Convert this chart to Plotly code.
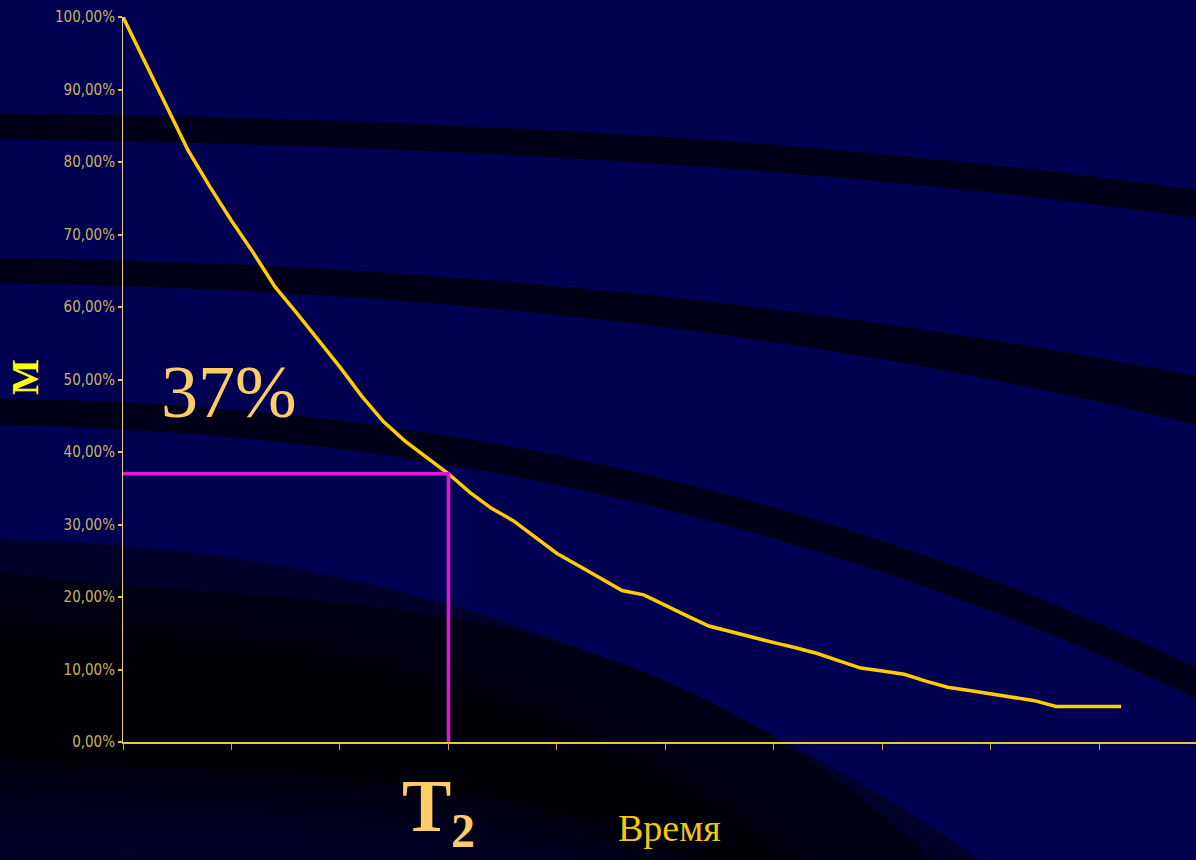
import numpy as np
import plotly.graph_objects as go

# Decay curve: share of signal remaining at each time step
time_step = list(range(47))
signal_pct = [100.0, 93.8, 87.6, 81.6, 76.6, 71.9, 67.5, 62.8, 59.2, 55.5,
              51.7, 47.7, 44.2, 41.5, 39.3, 37.0, 34.4, 32.2, 30.5, 28.2,
              26.0, 24.3, 22.6, 20.9, 20.3, 18.8, 17.4, 16.0, 15.2, 14.5,
              13.7, 13.0, 12.2, 11.2, 10.2, 9.8, 9.35, 8.4, 7.55, 7.1,
              6.6, 6.1, 5.7, 4.9, 4.9, 4.9, 4.9]

# Marker for T2: the step where 37% of the signal remains
t2_step = 15
t2_level = 37.0

y_ticks = list(range(0, 101, 10))
y_tick_text = [f"{v},00%" for v in y_ticks]

FIG_W, FIG_H = 1196, 860
L, T, W, H = 123, 17, 1073, 725
NAVY = "#000052"


def to_paper(px, py):
    return (px - L) / W, 1 - (py - T) / H


def edge(points, deg=3, x0=-30, x1=1230, n=60):
    xs, ys = zip(*points)
    coef = np.polyfit(xs, ys, min(deg, len(xs) - 1))
    gx = np.linspace(x0, x1, n)
    return list(zip(gx, np.polyval(coef, gx)))


def path_from(pts):
    parts = []
    for i, (px, py) in enumerate(pts):
        x, y = to_paper(px, py)
        parts.append(("M" if i == 0 else "L") + f"{x:.5f},{y:.5f}")
    return " ".join(parts) + " Z"


def band(top, bottom, color, opacity=1.0):
    pts = edge(top) + edge(bottom)[::-1]
    return dict(type="path", xref="paper", yref="paper", layer="below",
                path=path_from(pts), fillcolor=color, opacity=opacity,
                line=dict(width=0))


def below(top, color, opacity=1.0, y_bottom=920):
    e = edge(top, x0=-30, x1=1300)
    pts = e + [(1300, y_bottom), (-30, y_bottom)]
    return dict(type="path", xref="paper", yref="paper", layer="below",
                path=path_from(pts), fillcolor=color, opacity=opacity,
                line=dict(width=0))


shapes = [
    band([(0, 113), (120, 116), (370, 121), (520, 129), (1196, 190)],
         [(0, 139), (120, 142), (370, 148), (520, 156), (1196, 218)], "#000018"),
    band([(0, 258), (120, 260), (370, 272), (600, 290), (1196, 376)],
         [(0, 283), (120, 287), (370, 298), (600, 320), (1196, 425)], "#000018"),
    band([(0, 398), (340, 423), (600, 461), (800, 515), (907, 550), (1087, 620), (1196, 666)],
         [(0, 425), (340, 450), (600, 493), (800, 547), (1013, 620), (1196, 698)], "#000018"),
    # dark sweep in the lower-left corner
    below([(0, 540), (200, 553), (400, 592), (700, 700), (790, 742), (980, 860)], "#00002a"),
    below([(0, 575), (200, 582), (400, 620), (717, 700), (930, 860)], "#000014"),
]

# soft darkening towards the centre of the sweep
for d in range(0, 60, 12):
    shapes.append(below([(0, 600 + d), (200, 610 + d), (400, 648 + d),
                         (650, 740 + d), (820, 860 + d)], "#000000", 0.12))

# the sweep fades back to deep blue along the bottom edge
for d in range(0, 100, 14):
    shapes.append(below([(0, 760 + d), (300, 775 + d), (500, 800 + d),
                         (650, 840 + d)], "#00003a", 0.18))

fig = go.Figure()

fig.add_trace(go.Scatter(
    x=time_step, y=signal_pct, mode="lines",
    line=dict(color="#ffcc00", width=3.5), hoverinfo="skip", showlegend=False))

fig.add_trace(go.Scatter(
    x=[0, t2_step, t2_step], y=[t2_level, t2_level, 0], mode="lines",
    line=dict(color="#e812dc", width=3.5), hoverinfo="skip", showlegend=False,
    cliponaxis=False))

annotations = []


def label(text, px, py, size, color, family="Liberation Serif", bold=False,
          angle=0, xanchor="center", yanchor="middle"):
    x, y = to_paper(px, py)
    annotations.append(dict(
        text=f"<b>{text}</b>" if bold else text, x=x, y=y, xref="paper",
        yref="paper", showarrow=False, textangle=angle, xanchor=xanchor,
        yanchor=yanchor, font=dict(family=family, size=size, color=color)))


label("37%", 229, 392, 74, "#ffcc66")
label("T", 426, 806, 74, "#ffcc66", bold=True)
label("2", 463, 830, 48, "#ffcc66", bold=True)
label("Время", 669, 828, 38, "#f0c810")
label("M", 25, 377, 38, "#ffff00", bold=True, angle=-90)

fig.update_layout(
    width=FIG_W, height=FIG_H,
    margin=dict(l=L, r=FIG_W - L - W, t=T, b=FIG_H - T - H, pad=0),
    paper_bgcolor=NAVY, plot_bgcolor="rgba(0,0,0,0)",
    shapes=shapes, annotations=annotations, showlegend=False,
    xaxis=dict(range=[0, 49.45], showgrid=False, zeroline=False,
               showline=True, linecolor="#e8c840", linewidth=2,
               ticks="outside", tickvals=list(range(0, 50, 5)), ticklen=6,
               tickcolor="#c8b040", tickwidth=1, showticklabels=False,
               automargin=False),
    yaxis=dict(range=[0, 100], showgrid=False, zeroline=False,
               showline=True, linecolor="#e8d080", linewidth=1,
               ticks="outside", tickvals=y_ticks, ticktext=y_tick_text,
               ticklen=4, tickcolor="#e0c040", tickwidth=2,
               tickfont=dict(family="Liberation Sans Narrow, DejaVu Sans Condensed, sans-serif",
                             size=15, color="#c9b45a"),
               automargin=False),
)

fig.write_html("out.html")
